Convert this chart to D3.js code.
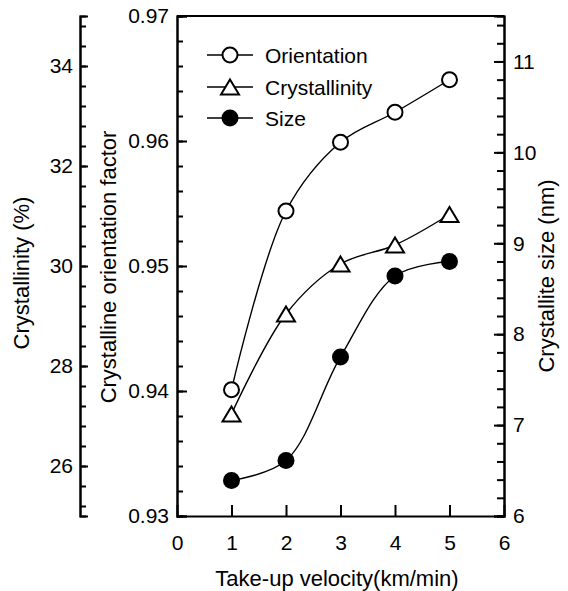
<html>
	<head>
		<meta content="text/html;charset=utf-8" http-equiv="Content-Type">
		<script src="https://d3js.org/d3.v7.min.js"></script>
		<style>
		body { margin: 0; background: #fff; }
		text { font-family: "Liberation Sans", Arial, sans-serif; font-size: 21px; fill: #000; }
		.title { font-size: 22px; }
		</style>
	</head>
	<body>
		<svg id="chart"></svg>
		<script>

	// data
	var velocity = [1, 2, 3, 4, 5];
	var orientation = [0.9401, 0.9544, 0.9599, 0.9623, 0.9649];
	var crystallinity = [27.04, 29.04, 30.04, 30.42, 31.03];
	var crystalSize = [6.39, 6.61, 7.75, 8.64, 8.80];

	var xTicks = [0, 1, 2, 3, 4, 5, 6];
	var orientTicks = [0.93, 0.94, 0.95, 0.96, 0.97];
	var crystTicks = [26, 28, 30, 32, 34];
	var sizeTicks = [6, 7, 8, 9, 10, 11];
	var legendNames = ["Orientation", "Crystallinity", "Size"];

	page();

	function page(){
		var svg = d3.select("#chart").attr("width", 568).attr("height", 591);

		var left = 177, right = 504, top = 16, bottom = 516, outerX = 80;

		var x = d3.scaleLinear().domain([0, 6]).range([left, right]);
		var yO = d3.scaleLinear().domain([0.93, 0.97]).range([bottom, top]);
		var yC = d3.scaleLinear().domain([25, 35]).range([bottom, top]);
		var yS = d3.scaleLinear().domain([6, 11.5]).range([bottom, top]);

		var minorO = d3.range(0, 21).map(function(i){ return 0.93 + i * 0.002; });
		var minorC = d3.range(0, 25).map(function(i){ return 25.2 + i * 0.4; });
		var minorS = d3.range(0, 28).map(function(i){ return 6 + i * 0.2; });

		// outer crystallinity axis
		var gC = svg.append("g").attr("transform", "translate(" + outerX + ",0)");
		gC.call(d3.axisLeft(yC).tickValues(minorC).tickSize(-6).tickFormat(""));
		gC.append("g").call(d3.axisLeft(yC).tickValues(crystTicks).tickSize(-8).tickPadding(7).tickFormat(d3.format("d")));

		// inner orientation axis
		var gO = svg.append("g").attr("transform", "translate(" + left + ",0)");
		gO.call(d3.axisLeft(yO).tickValues(minorO).tickSize(-6).tickFormat(""));
		gO.append("g").call(d3.axisLeft(yO).tickValues(orientTicks).tickSize(-10).tickPadding(8).tickFormat(d3.format(".2f")));

		// right size axis
		var gS = svg.append("g").attr("transform", "translate(" + right + ",0)");
		gS.call(d3.axisRight(yS).tickValues(minorS).tickSize(-7).tickFormat(""));
		gS.append("g").call(d3.axisRight(yS).tickValues(sizeTicks).tickSize(-10).tickPadding(9).tickFormat(d3.format("d")));

		// bottom axis
		var gX = svg.append("g").attr("transform", "translate(0," + bottom + ")");
		gX.call(d3.axisBottom(x).tickValues(xTicks).tickSize(-11).tickPadding(19).tickFormat(d3.format("d")));
		gX.selectAll(".tick line").filter(function(d){ return d === 0 || d === 6; }).remove();

		// top border
		svg.append("line")
			.attr("x1", left).attr("x2", right)
			.attr("y1", top).attr("y2", top)
			.attr("stroke", "black").attr("stroke-width", 2);

		svg.selectAll(".domain").attr("stroke-width", 2);
		svg.selectAll(".tick line").attr("stroke-width", 2);
		svg.selectAll(".tick text").style("font-family", "'Liberation Sans', Arial, sans-serif").style("font-size", "21px");

		// titles
		svg.append("text").attr("class", "title").attr("transform", "translate(29,273) rotate(-90)")
			.attr("text-anchor", "middle").text("Crystallinity (%)");
		svg.append("text").attr("class", "title").attr("transform", "translate(116,267) rotate(-90)")
			.attr("text-anchor", "middle").text("Crystalline orientation factor");
		svg.append("text").attr("class", "title").attr("transform", "translate(554,276) rotate(-90)")
			.attr("text-anchor", "middle").text("Crystallite size (nm)");
		svg.append("text").attr("class", "title").attr("x", 337).attr("y", 586)
			.attr("text-anchor", "middle").text("Take-up velocity(km/min)");

		var curve = d3.curveCatmullRom;
		var seriesO = velocity.map(function(v, i){ return [x(v), yO(orientation[i])]; });
		var seriesC = velocity.map(function(v, i){ return [x(v), yC(crystallinity[i])]; });
		var seriesS = velocity.map(function(v, i){ return [x(v), yS(crystalSize[i])]; });

		[seriesO, seriesC, seriesS].forEach(function(pts){
			svg.append("path")
				.attr("d", d3.line().curve(curve)(pts))
				.attr("fill", "none")
				.attr("stroke", "black")
				.attr("stroke-width", 1.4);
		});

		var tri = "M0,-8.5L9,6.5L-9,6.5Z";

		seriesO.forEach(function(p){
			svg.append("circle").attr("cx", p[0]).attr("cy", p[1]).attr("r", 7.5)
				.attr("fill", "white").attr("stroke", "black").attr("stroke-width", 2);
		});
		seriesC.forEach(function(p){
			svg.append("path").attr("d", tri).attr("transform", "translate(" + p[0] + "," + (p[1] + 1) + ")")
				.attr("fill", "white").attr("stroke", "black").attr("stroke-width", 2);
		});
		seriesS.forEach(function(p){
			svg.append("circle").attr("cx", p[0]).attr("cy", p[1]).attr("r", 8.5)
				.attr("fill", "black");
		});

		// legend
		var legY = [55, 87, 118];
		legendNames.forEach(function(name, i){
			var g = svg.append("g").attr("transform", "translate(0," + legY[i] + ")");
			g.append("line").attr("x1", 207).attr("x2", 253).attr("y1", 0).attr("y2", 0)
				.attr("stroke", "black").attr("stroke-width", 1.4);
			if (i === 0) {
				g.append("circle").attr("cx", 230).attr("cy", 0).attr("r", 7.5)
					.attr("fill", "white").attr("stroke", "black").attr("stroke-width", 2);
			} else if (i === 1) {
				g.append("path").attr("d", tri).attr("transform", "translate(230,1)")
					.attr("fill", "white").attr("stroke", "black").attr("stroke-width", 2);
			} else {
				g.append("circle").attr("cx", 230).attr("cy", 0).attr("r", 8.5).attr("fill", "black");
			}
			g.append("text").attr("x", 265).attr("y", 7.5).text(name);
		});
	}

		</script>
	</body>
</html>
